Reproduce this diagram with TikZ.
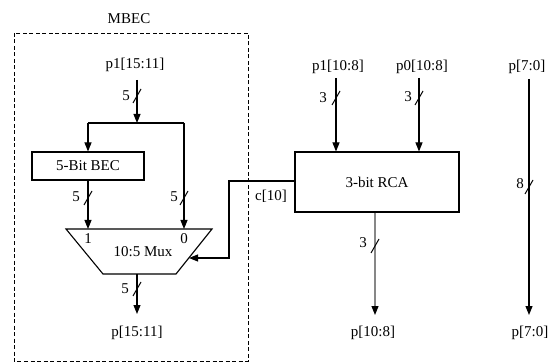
\documentclass[tikz,border=0pt]{standalone}
\usepackage{fontspec}
\setmainfont{Liberation Serif}
\usetikzlibrary{arrows.meta}
\begin{document}
\begin{tikzpicture}[x=1pt,y=-1pt,
  wire/.style={line width=1.1pt},
  arr/.style={wire,-{Triangle[length=9pt,width=7pt,color=black]}},
  lbl/.style={font=\fontsize{15}{17}\selectfont, inner sep=0pt},
  boxs/.style={draw, line width=1.1pt, rectangle, inner sep=0pt, font=\fontsize{15}{17}\selectfont},
  busmark/.pic={\draw[line width=1pt] (-4,7) -- (4,-7);},
  dashbox/.style={line width=0.9pt, dash pattern=on 4pt off 2.5pt}]
\useasboundingbox (0,0) rectangle (556,363);

% MBEC dashed region
\node[lbl] (mbec) at (129,19) {MBEC};
\draw[dashbox] (14,33) rectangle (248,361);

% top labels
\node[lbl] (p1a) at (135,65) {p1[15:11]};
\node[lbl] (p1b) at (338,67) {p1[10:8]};
\node[lbl] (p0b) at (422,67) {p0[10:8]};
\node[lbl] (p7a) at (527,67) {p[7:0]};

% bottom labels
\node[lbl] (o1) at (137,333) {p[15:11]};
\node[lbl] (o2) at (373,333) {p[10:8]};
\node[lbl] (o3) at (530,333) {p[7:0]};

% boxes
\node[boxs, minimum width=112pt, minimum height=28pt] (bec) at (88,166) {5-Bit BEC};
\node[boxs, minimum width=164pt, minimum height=60pt] (rca) at (377,182) {3-bit RCA};

% mux
\coordinate (mtl) at (66,229);
\coordinate (mtr) at (212,229);
\coordinate (mbr) at (176,274);
\coordinate (mbl) at (103,274);
\draw[wire] (mtl) -- (mtr) -- (mbr) -- (mbl) -- cycle;
\node[lbl] (mux) at (143,252) {10:5 Mux};
\node[lbl] (in1) at (88,239) {1};
\node[lbl] (in0) at (184,239) {0};
\coordinate (min1) at (88,229);
\coordinate (min0) at (184,229);
\coordinate (msel) at (189,258);
\coordinate (mout) at (137,274);

% connectors in MBEC
\coordinate (p1atop) at (137,80);
\coordinate (j) at (137,123);
\coordinate (jl) at (88,123);
\coordinate (jr) at (184,123);
\draw[arr] (p1atop) -- (j);
\draw[wire] (jl) -- (jr);
\draw[arr] (jl) -- (bec.north -| jl);
\draw[arr] (bec.south -| min1) -- (min1);
\draw[arr] (jr) -- (min0);
\coordinate (o1top) at (137,314);
\draw[arr] (mout) -- (o1top);

% select line
\coordinate (selc) at (229,181);
\draw[arr] (rca.west |- selc) -- (selc) |- (msel);
\node[lbl] (c10) at (271,196) {c[10]};

% RCA inputs / outputs
\coordinate (p1btop) at (336,78);
\coordinate (p0btop) at (419,78);
\draw[arr] (p1btop) -- (rca.north -| p1btop);
\draw[arr] (p0btop) -- (rca.north -| p0btop);
\coordinate (o2top) at (375,315);
\draw[arr, draw={rgb,255:red,135;green,135;blue,135}] (rca.south -| o2top) -- (o2top);

% p[7:0] pass-through
\coordinate (p7top) at (529,79);
\coordinate (o3top) at (529,315);
\draw[arr] (p7top) -- (o3top);

% bus width marks
\pic at (137,96) {busmark};
\node[lbl] (w1) at (126,96) {5};
\pic at (88,198) {busmark};
\node[lbl] (w2) at (76,197) {5};
\pic at (184,198) {busmark};
\node[lbl] (w3) at (174,197) {5};
\pic at (137,289) {busmark};
\node[lbl] (w4) at (125,289) {5};
\pic at (336,98) {busmark};
\node[lbl] (w5) at (323,98) {3};
\pic at (419,98) {busmark};
\node[lbl] (w6) at (408,97) {3};
\pic at (529,187) {busmark};
\node[lbl] (w7) at (520,184) {8};
\pic at (375,246) {busmark};
\node[lbl] (w8) at (363,243) {3};
\end{tikzpicture}
\end{document}
